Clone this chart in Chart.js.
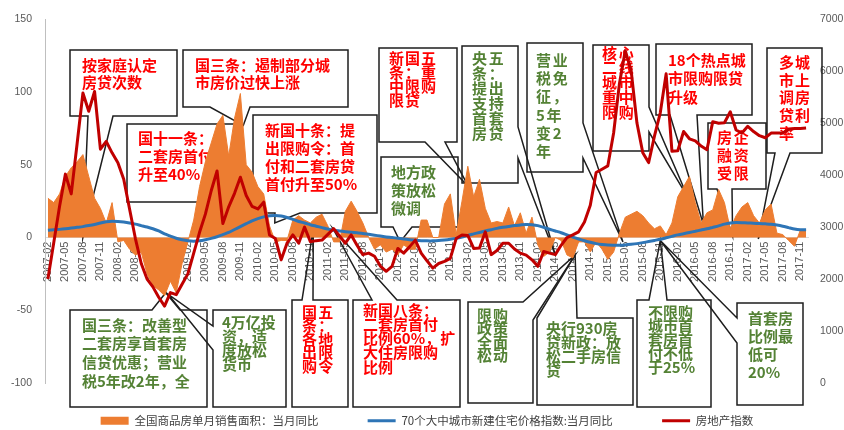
<!DOCTYPE html>
<html>
<head>
<meta charset="utf-8">
<script src="https://cdn.jsdelivr.net/npm/chart.js@4/dist/chart.umd.min.js"></script>
<style>
  html, body { margin: 0; padding: 0; background: #fff; }
  #wrap { width: 844px; height: 430px; }
</style>
</head>
<body>
<div id="wrap"><canvas id="chart" width="844" height="430"></canvas></div>
<script>
// months 2007-02 .. 2017-12
const months = [];
for (let y = 2007, m = 2; y < 2018; ) {
  months.push(y + "-" + String(m).padStart(2, "0"));
  m++;
  if (m > 12) { m = 1; y++; }
}

// 全国商品房单月销售面积：当月同比 (%)
const salesYoY = [
  27, 24, 30, 42, 48, 52, 57, 42, 27, 20, 10,
  24, -3, -2, -8, -12, -10, -25, -33, -36, -40, -30, -38,
  -18, -3, 12, 35, 52, 65, 78, 84, 56, 82, 99, 50,
  45, 35, 30, 8, -3, -2, -2, 12, 15, 12, 10, 14,
  16, 8, -3, -3, 18, 25, 18, 10, 0, -8, -5, -10,
  -8, -12, -5, -8, -8, 12, 12, 0, 0, 23, 30, 2,
  25, 49, 28, 40, 20, 10, 11, 10, 21, 8, 17, 3,
  14, -5, -13, -10, 0, -2, -12, -14, -3, -3, -10, -3,
  -8, -15, -10, 3, 14, 16, 18, 15, 10, 6, 8, 2,
  10, 28, 35, 42, 24, 10, 17, 19, 33, 24, 6, 15,
  21, 24, 15, 10, 19, 23, 3, 2, -2, -6, 5, 5
];

// 70个大中城市新建住宅价格指数:当月同比 (%)
const priceYoY = [
  5, 5.3, 5.6, 6, 6.5, 7, 7.5, 8.2, 9, 10, 10.8,
  11.2, 11, 10.6, 10, 9.2, 8.2, 7.2, 6, 4.5, 2.5, 1, -0.5,
  -1.5, -2.2, -2.5, -2.2, -1.5, -0.6, 0.5, 2, 3.5, 5.5, 7.5, 9.5,
  11.5, 13, 14.2, 15, 15.2, 14.8, 13.8, 12.5, 11, 10, 8.8, 7.8,
  6.8, 5.8, 5, 4.5, 4, 3.6, 3.2, 2.8, 2.2, 1.6, 1, 0.4,
  0, -0.5, -1, -1.5, -1.9, -2.2, -2.3, -2.3, -2.1, -1.7, -1.2, -0.6,
  0.3, 1.5, 2.5, 3.5, 4.5, 5.4, 6.3, 7, 7.6, 8.2, 8.6, 9,
  8.8, 8.2, 7, 5.7, 4.5, 3.3, 1.8, 0.3, -1, -2.2, -3.3, -4.2,
  -4.8, -5.2, -5.3, -5.3, -5.1, -4.7, -4.2, -3.5, -2.8, -2, -1.2, -0.2,
  0.8, 1.8, 2.6, 3.5, 4.3, 5.2, 6, 7, 8, 9.2, 10, 10.3,
  10.2, 10, 9.8, 9.6, 9.4, 9.2, 8.6, 7.8, 6.8, 5.8, 5.3, 5.3
];

// 房地产指数 (right axis)
const estateIndex = [
  2000, 2700, 3400, 4020, 3640, 4600, 5580, 5230, 5610, 4500, 4650,
  4430, 4240, 3920, 3350, 2780, 2300, 2000, 1850, 1650, 1480, 1740, 1700,
  1900, 2100, 2500, 2900, 3250, 3700, 4080, 3070, 3390, 3650, 3960, 3610,
  3400, 3350, 3480, 2850, 2780, 2370, 2690, 2850, 2690, 3000, 2720, 2740,
  2750, 2860, 2970, 2830, 2690, 2850, 2650, 2470, 2500, 2440, 2250, 2150,
  2245, 2590, 2500, 2620, 2750, 2500, 2350, 2210, 2300, 2340, 2400, 2780,
  2850, 2840, 2590, 2600, 2910, 2470, 2550, 2690, 2690, 2580, 2500, 2460,
  2370, 2245, 2530, 2500, 2470, 2650, 2800, 2850, 2910, 3100, 3420, 4050,
  4115, 4178, 4812, 5764, 6397, 6017, 5003, 4432, 4242, 4750, 5200, 5950,
  4460, 4470, 4840, 4700, 4660, 4560, 4490, 5030, 5000, 5010, 5220, 4870,
  4810, 4940, 4840, 4760, 4720, 4810, 4810, 4810, 4880, 4900, 4900, 4910
];

const seriesNames = ["全国商品房单月销售面积：当月同比", "70个大中城市新建住宅价格指数:当月同比", "房地产指数"];
const leftTicks = [-100, -50, 0, 50, 100, 150];
const rightTicks = [0, 1000, 2000, 3000, 4000, 5000, 6000, 7000];

const ORANGE = "#ED7D31";
const BLUE = "#2E75B6";
const DARKRED = "#C00000";
const RED = "#FF0000";
const GREEN = "#548235";

// policy callouts: text box in px, tip = [month index, left-axis value]
const notes = [
  { lines: ["按家庭认定", "房贷次数"], color: RED, x: 82, y: 65, lh: 17.5, sp: 0, tip: [6, 0],
    outline: [[70, 50], [177, 50], [177, 116], [113, 116], "T", [88, 116], [70, 116]] },
  { lines: ["国三条：遏制部分城", "市房价过快上涨"], color: RED, x: 195, y: 65, lh: 17.5, sp: 0, tip: [33.5, 77],
    outline: [[183, 50], [348, 50], [348, 107], [250, 107], "T", [210, 107], [183, 107]] },
  { lines: ["国十一条：", "二套房首付", "升至40%"], color: RED, x: 138, y: 138, lh: 18, sp: 0, tip: [34.1, 27],
    outline: [[127, 124], [234, 124], [234, 169], "T", [234, 192], [234, 202], [127, 202]] },
  { lines: ["新国十条：提", "出限购令：首", "付和二套房贷", "首付升至50%"], color: RED, x: 265, y: 130, lh: 18, sp: 0, tip: [38.9, 10],
    outline: [[253, 115], [377, 115], [377, 213], [300, 213], "T", [275, 213], [253, 213]] },
  { lines: ["新国五", "条：重", "中限购", "限贷"], color: RED, x: 389, y: 58, lh: 14, sp: 1, tip: [72.1, 35],
    outline: [[379, 48], [457, 48], [457, 142], [445, 142], "T", [425, 142], [379, 142]] },
  { lines: ["地方政", "策放松", "微调"], color: GREEN, x: 391, y: 172, lh: 18, sp: 0, tip: [60.4, -3],
    outline: [[381, 157], [458, 157], [458, 227], [412, 227], "T", [393, 227], [381, 227]] },
  { lines: ["央五", "条：", "提出", "支持", "首套", "房贷"], color: GREEN, x: 472, y: 58, lh: 15, sp: 1.7, tip: [87, -12],
    outline: [[462, 46], [518, 46], [518, 127], "T", [518, 158], [518, 183], [462, 183]] },
  { lines: ["营业", "税免", "征，", "5年", "变2", "年"], color: GREEN, x: 536, y: 60, lh: 18.3, sp: 1.7, tip: [98.6, -3],
    outline: [[527, 43], [583, 43], [583, 123], "T", [583, 158], [583, 172], [527, 172]] },
  { lines: ["核心", "二线", "城市", "重中", "限购"], color: RED, x: 602, y: 53, lh: 14.75, sp: 1.7, tip: [109.8, 27],
    outline: [[593, 45], [649, 45], [649, 107], "T", [649, 132], [649, 151], [593, 151]] },
  { lines: ["18个热点城", "市限购限贷", "升级"], color: RED, x: 668, y: 60, lh: 18.5, sp: 0, tip: [112.4, 9],
    outline: [[656, 44], [752, 44], [752, 115], [697, 115], "T", [670, 115], [656, 115]] },
  { lines: ["房企", "融资", "受限"], color: RED, x: 717, y: 137, lh: 18, sp: 1.7, tip: [117.4, 1],
    outline: [[708, 123], [766, 123], [766, 189], [732, 189], "T", [717, 189], [708, 189]] },
  { lines: ["多城", "市上", "调房", "贷利", "率"], color: RED, x: 779, y: 62, lh: 17.8, sp: 1, tip: [121.8, -1],
    outline: [[767, 48], [822, 48], [822, 153], [790, 153], "T", [775, 153], [767, 153]] },
  { lines: ["国三条：改善型", "二套房享首套房", "信贷优惠；营业", "税5年改2年，全"], color: GREEN, x: 82, y: 325, lh: 18.7, sp: 0, tip: [20.2, -38],
    outline: [[70, 310], [152, 310], "T", [180, 310], [207, 310], [207, 407], [70, 407]] },
  { lines: ["4万亿投", "资，适", "度放松", "货币"], color: GREEN, x: 222, y: 322, lh: 14, sp: 0, tip: [20.6, -39],
    outline: [[213, 310], [286, 310], [286, 407], [213, 407], [213, 350], "T", [213, 326]] },
  { lines: ["国五", "条：", "各地", "出限", "购令"], color: RED, x: 302, y: 312, lh: 13.5, sp: 1.3, tip: [45.5, 6],
    outline: [[292, 300], [302, 300], "T", [313, 300], [348, 300], [348, 407], [292, 407]] },
  { lines: ["新国八条：", "二套房首付", "比例60%，扩", "大住房限购", "比例"], color: RED, x: 363, y: 310, lh: 14.2, sp: 0, tip: [48.9, 6],
    outline: [[353, 300], [372, 300], "T", [397, 300], [460, 300], [460, 407], [353, 407]] },
  { lines: ["限购", "政策", "全面", "松动"], color: GREEN, x: 477, y: 315, lh: 13.5, sp: 1, tip: [90.4, -12],
    outline: [[468, 302], [523, 302], "T", [533, 320], [533, 403], [468, 403]] },
  { lines: ["央行930房", "贷新政：放", "松二手房信", "贷"], color: GREEN, x: 546, y: 328, lh: 14, sp: 0, tip: [90.4, -12],
    outline: [[537, 318], "T", [577, 318], [633, 318], [633, 405], [537, 405]] },
  { lines: ["不限购", "城市首", "套房首", "付不低", "于25%"], color: GREEN, x: 648, y: 312, lh: 13.7, sp: 0, tip: [105, -2],
    outline: [[637, 300], [649, 300], "T", [667, 300], [711, 300], [711, 407], [637, 407]] },
  { lines: ["首套房", "比例最", "低可", "20%"], color: GREEN, x: 748, y: 318, lh: 18.2, sp: 0, tip: [105, -2],
    outline: [[737, 303], [803, 303], [803, 405], [737, 405], [737, 343], "T", [737, 318]] }
];

// draw the callouts under the series
const calloutPlugin = {
  id: "callouts",
  beforeDatasetsDraw(chart) {
    const ctx = chart.ctx;
    const xs = chart.scales.x;
    const ys = chart.scales.y;
    ctx.save();
    notes.forEach((n) => {
      const tx = xs.getPixelForValue(n.tip[0]);
      const ty = ys.getPixelForValue(n.tip[1]);
      ctx.beginPath();
      n.outline.forEach((p, i) => {
        const pt = p === "T" ? [tx, ty] : p;
        if (i === 0) ctx.moveTo(pt[0], pt[1]);
        else ctx.lineTo(pt[0], pt[1]);
      });
      ctx.closePath();
      ctx.lineWidth = 1.5;
      ctx.strokeStyle = "#1e1e1e";
      ctx.lineJoin = "miter";
      ctx.stroke();

      ctx.fillStyle = n.color;
      ctx.font = "bold 15px 'Noto Sans CJK SC'";
      ctx.textBaseline = "middle";
      ctx.textAlign = "left";
      n.lines.forEach((line, k) => {
        let x = n.x;
        const y = n.y + k * n.lh;
        for (const ch of line) {
          ctx.fillText(ch, x, y);
          x += ctx.measureText(ch).width + n.sp;
        }
      });
    });
    ctx.restore();
  }
};

const tickFont = { family: "'Liberation Sans'", size: 10.5 };

new Chart(document.getElementById("chart"), {
  type: "line",
  data: {
    labels: months,
    datasets: [
      {
        label: seriesNames[0],
        data: salesYoY,
        yAxisID: "y",
        fill: "origin",
        backgroundColor: ORANGE,
        borderColor: ORANGE,
        borderWidth: 1,
        pointRadius: 0,
        pointStyle: "rect",
        pointBackgroundColor: ORANGE,
        pointBorderWidth: 0,
        tension: 0,
        order: 3
      },
      {
        label: seriesNames[1],
        data: priceYoY,
        yAxisID: "y",
        fill: false,
        borderColor: BLUE,
        backgroundColor: BLUE,
        borderWidth: 3,
        pointRadius: 0,
        pointStyle: "line",
        pointBorderColor: BLUE,
        pointBorderWidth: 3,
        tension: 0.2,
        order: 2
      },
      {
        label: seriesNames[2],
        data: estateIndex,
        yAxisID: "y1",
        fill: false,
        borderColor: DARKRED,
        backgroundColor: DARKRED,
        borderWidth: 3,
        borderJoinStyle: "round",
        pointRadius: 0,
        pointStyle: "line",
        pointBorderColor: DARKRED,
        pointBorderWidth: 3,
        tension: 0,
        order: 1
      }
    ]
  },
  options: {
    responsive: false,
    devicePixelRatio: 1,
    animation: false,
    events: [],
    layout: { padding: { top: 15, left: 0, right: 0, bottom: -6.5 } },
    plugins: {
      tooltip: { enabled: false },
      legend: {
        position: "bottom",
        fullSize: false,
        labels: {
          usePointStyle: true,
          pointStyleWidth: 28,
          boxHeight: 8,
          padding: 32,
          color: "#404040",
          font: { family: "'Noto Sans CJK SC'", size: 11.5 },
          sort: (a, b) => a.datasetIndex - b.datasetIndex,
          generateLabels: (chart) => {
            const items = Chart.defaults.plugins.legend.labels.generateLabels(chart);
            items.forEach((it) => {
              if (it.datasetIndex < 2) it.text = it.text + "\u3000\u2002";
            });
            return items;
          }
        }
      }
    },
    scales: {
      x: {
        type: "category",
        offset: true,
        position: { y: 0 },
        grid: { display: false, drawTicks: false },
        border: { display: false },
        ticks: {
          autoSkip: false,
          minRotation: 90,
          maxRotation: 90,
          padding: 4,
          color: "#595959",
          font: { family: "'Liberation Sans'", size: 11 },
          callback: function (value, index) {
            return index % 3 === 0 ? this.getLabelForValue(value) : null;
          }
        },
        afterFit: (scale) => { scale.height = 0; }
      },
      y: {
        position: "left",
        min: leftTicks[0],
        max: leftTicks[leftTicks.length - 1],
        afterBuildTicks: (scale) => { scale.ticks = leftTicks.map((v) => ({ value: v })); },
        ticks: { color: "#595959", font: tickFont, padding: 13, callback: (v) => String(v) },
        grid: {
          drawTicks: false,
          color: (c) => (c.tick && c.tick.value === 0 ? "#D9D9D9" : "rgba(0,0,0,0)")
        },
        border: { display: true, color: "#BFBFBF" },
        afterFit: (scale) => { scale.width = 45; }
      },
      y1: {
        position: "right",
        min: rightTicks[0],
        max: rightTicks[rightTicks.length - 1],
        afterBuildTicks: (scale) => { scale.ticks = rightTicks.map((v) => ({ value: v })); },
        ticks: { color: "#595959", font: tickFont, padding: 11, callback: (v) => String(v) },
        grid: { display: false, drawTicks: false },
        border: { display: false },
        afterFit: (scale) => { scale.width = 35; }
      }
    }
  },
  plugins: [calloutPlugin]
});
</script>
</body>
</html>
